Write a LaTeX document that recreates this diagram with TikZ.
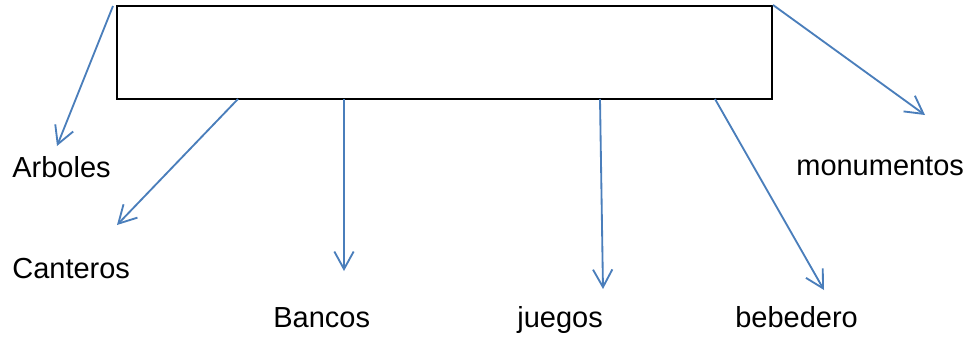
\documentclass[tikz,border=0pt]{standalone}
\usepackage{fontspec}
\setmainfont{Liberation Sans}
\usetikzlibrary{arrows.meta}

\definecolor{azul}{RGB}{74,126,187}
\tikzstyle{etiqueta}=[anchor=base west,inner sep=0pt,font=\fontsize{16.5}{20}\selectfont]
\tikzstyle{flecha}=[draw=azul,line width=1.05pt,-{Straight Barb[length=10pt,width=11pt,line width=1.05pt]}]
\newcommand{\mylabel}[3]{\node[etiqueta] (#1) at (#2) {#3};}
\newcommand{\myarrow}[2]{\draw[flecha] (#1) -- (#2);}

\begin{document}
\begin{tikzpicture}[x=0.02cm,y=-0.02cm]
    \useasboundingbox (0,0) rectangle (971,339);
    % central box
    \node[draw,line width=1.2pt,minimum width=13.1cm,minimum height=1.86cm,inner sep=0pt] (caja) at (444.5,52.5) {};

    % labels
    \mylabel{arb}{12,177}{Arboles}
    \mylabel{can}{12,278}{Canteros}
    \mylabel{ban}{273,327}{Bancos}
    \mylabel{jue}{517,327}{juegos}
    \mylabel{beb}{735,327}{bebedero}
    \mylabel{mon}{796,175}{monumentos}

    % start and end points of the arrows
    \coordinate (s1) at (113,6);   \coordinate (e1) at (57,146);
    \coordinate (s2) at (238,99);  \coordinate (e2) at (117,225);
    \coordinate (s3) at (344,99);  \coordinate (e3) at (344,271);
    \coordinate (s4) at (600,99);  \coordinate (e4) at (603,289);
    \coordinate (s5) at (715,99);  \coordinate (e5) at (824,290);
    \coordinate (e6) at (925,115);

    \myarrow{s1}{e1}
    \myarrow{s2}{e2}
    \myarrow{s3}{e3}
    \myarrow{s4}{e4}
    \myarrow{s5}{e5}
    \myarrow{caja.north east}{e6}
\end{tikzpicture}
\end{document}
